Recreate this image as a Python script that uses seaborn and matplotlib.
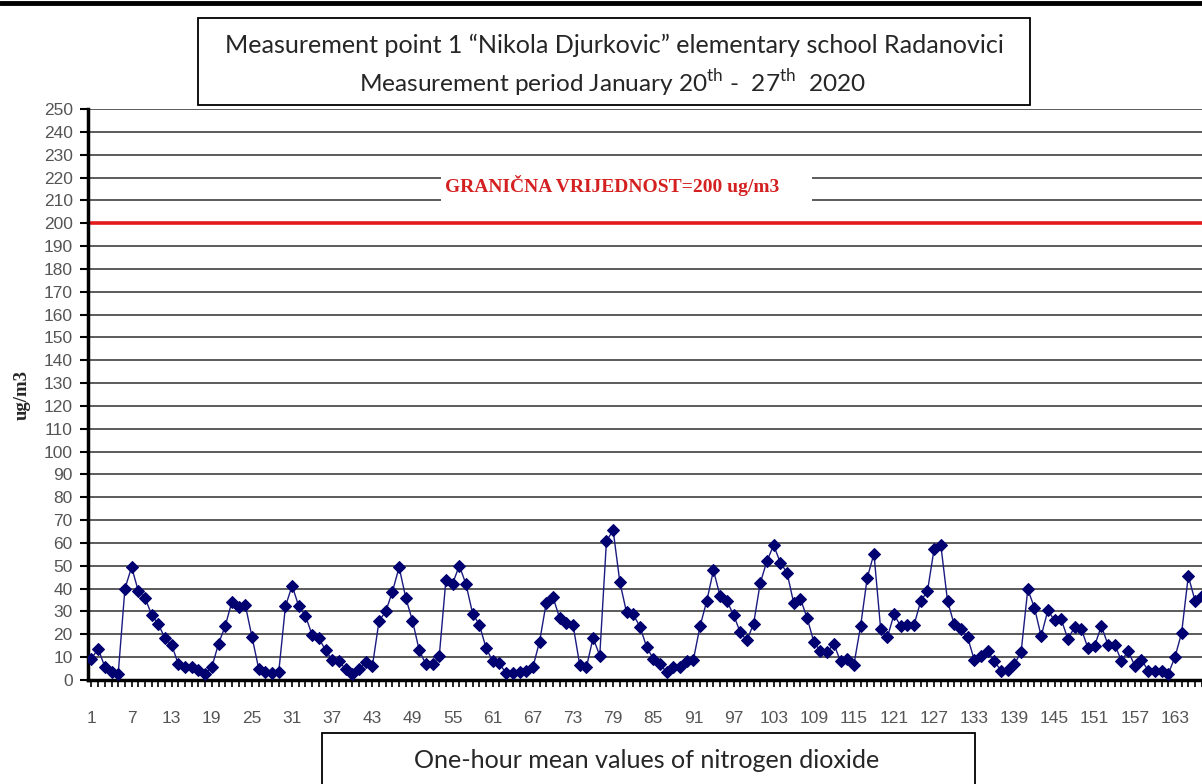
import matplotlib
matplotlib.use('Agg')
import matplotlib.pyplot as plt
import seaborn as sns
import pandas as pd
from matplotlib.patches import Rectangle
from matplotlib.lines import Line2D

# one-hour mean NO2 values (ug/m3), hours 1..167 as visible in the chart
no2 = [9.4, 13.7, 5.7, 3.5, 2.8, 40, 49.4, 39, 36, 28.5,
       24.4, 18.2, 15.3, 6.8, 5.7, 5.7, 4.3, 2.8, 5.7, 15.9,
       23.7, 34.3, 31.8, 32.8, 18.8, 5, 3.5, 3.1, 3.5, 32.2,
       41.3, 32.2, 28.1, 19.6, 18.2, 13.1, 8.7, 8.4, 4.6, 2.8,
       4.6, 7.9, 6, 25.9, 30, 38.7, 49.4, 35.9, 25.9, 13.1,
       6.8, 6.8, 10.4, 44, 42.2, 50.1, 41.9, 29, 24.2, 14,
       8.2, 7.3, 2.9, 2.9, 3.4, 4.1, 5.6, 16.8, 33.8, 36.3,
       27.2, 24.9, 24.2, 6.7, 5.6, 18.4, 10.7, 60.8, 65.6, 42.9,
       29.7, 28.7, 23.4, 14.6, 9.2, 7, 3.4, 5.9, 5.6, 8.2,
       8.9, 23.6, 34.6, 48, 36.7, 34.6, 28.6, 20.9, 17.3, 24.6,
       42.5, 52.1, 59, 51.4, 47, 33.7, 35.6, 27.2, 16.8, 12.6,
       12.2, 15.8, 8.2, 9.2, 6.7, 23.6, 44.8, 55.3, 22.4, 18.7,
       28.7, 23.6, 24.2, 24.2, 34.6, 38.9, 57.5, 59, 34.6, 24.3,
       22.4, 18.7, 8.8, 10.7, 12.6, 8.2, 4.1, 4.5, 7, 12.2,
       39.7, 31.6, 19.2, 30.5, 26.1, 26.5, 18, 23.1, 22.4, 13.9,
       15.1, 23.6, 15.4, 15.4, 8.5, 12.6, 6.3, 8.9, 4.1, 4.1,
       4.1, 2.6, 10, 20.6, 45.5, 34.8, 36.6]
hours = list(range(1, len(no2) + 1))
x_labels = list(range(1, 164, 6))
y_ticks = list(range(0, 251, 10))
limit = 200

df = pd.DataFrame({'hour': hours, 'no2': no2})

sns.set_style('white')
plt.rcParams['font.family'] = ['Liberation Sans', 'DejaVu Sans']
plt.rcParams['mathtext.fontset'] = 'custom'
plt.rcParams['mathtext.rm'] = 'Lato'

fig = plt.figure(figsize=(12.02, 7.84), dpi=100)
ax = fig.add_axes([88 / 1202, 104 / 784, 1 - 88 / 1202, 571 / 784])

for v in y_ticks[1:]:
    ax.axhline(v, color='#404040', lw=1.2, zorder=0.5)

ax.axhline(limit, color='#e31a1c', lw=2.6, zorder=2)

sns.lineplot(data=df, x='hour', y='no2', ax=ax, color='#1a1a80', lw=1.0,
             marker='D', markersize=5.8, markeredgecolor='#000070',
             markerfacecolor='#000070', zorder=3)

ax.add_patch(Rectangle((53.2, 205), 55.5, 23, facecolor='white',
                       edgecolor='none', zorder=1))
ax.text(53.9, 216.5, 'GRANIČNA VRIJEDNOST=200 ug/m3', color='#d42020',
        family='Liberation Serif', weight='bold', fontsize=14,
        ha='left', va='center', zorder=4)

ax.set_xlim(0.48, 167.05)
ax.set_ylim(0, 250)
ax.set_yticks(y_ticks)
ax.set_xticks(x_labels)
ax.set_xticks(hours, minor=True)
ax.set_xlabel('')
ax.set_ylabel('')
ax.tick_params(axis='y', length=6, width=1.5, color='black', pad=5,
               labelsize=12.5, labelcolor='#555555', left=True)
ax.tick_params(axis='x', which='both', length=5, width=1.2, color='black',
               direction='out', bottom=True, pad=17, labelsize=12.5,
               labelcolor='#555555')
for s in ['top', 'right']:
    ax.spines[s].set_visible(False)
ax.spines['left'].set_linewidth(2.5)
ax.spines['bottom'].set_linewidth(2.5)
ax.spines['left'].set_color('black')
ax.spines['bottom'].set_color('black')

fig.text(22 / 1202, 1 - 395 / 784, 'ug/m3', rotation=90, family='Liberation Serif',
         weight='bold', fontsize=13.5, ha='center', va='center')

# title box
fig.add_artist(Line2D([0, 1], [1 - 2.5 / 784] * 2, color='black', lw=3.5))
fig.add_artist(Rectangle((198 / 1202, 1 - 105 / 784), 832 / 1202, 87 / 784,
                         facecolor='white', edgecolor='black', lw=1.3))
fig.text(614 / 1202, 1 - 45 / 784,
         'Measurement point 1 \u201cNikola Djurkovic\u201d elementary school Radanovici',
         family='Lato', fontsize=18.1, ha='center', va='center')
fig.text(613 / 1202, 1 - 83 / 784,
         r'Measurement period January 20$^{\mathrm{th}}$ -  27$^{\mathrm{th}}$  2020',
         family='Lato', fontsize=17.6, ha='center', va='center')

# x-axis caption box
fig.add_artist(Rectangle((322 / 1202, -0.05), 653 / 1202, 0.05 + 51 / 784,
                         facecolor='white', edgecolor='black', lw=1.3))
fig.text(647 / 1202, 1 - 760 / 784, 'One-hour mean values of nitrogen dioxide',
         family='Lato', fontsize=18.1, ha='center', va='center')

fig.savefig('out.png', dpi=100)
